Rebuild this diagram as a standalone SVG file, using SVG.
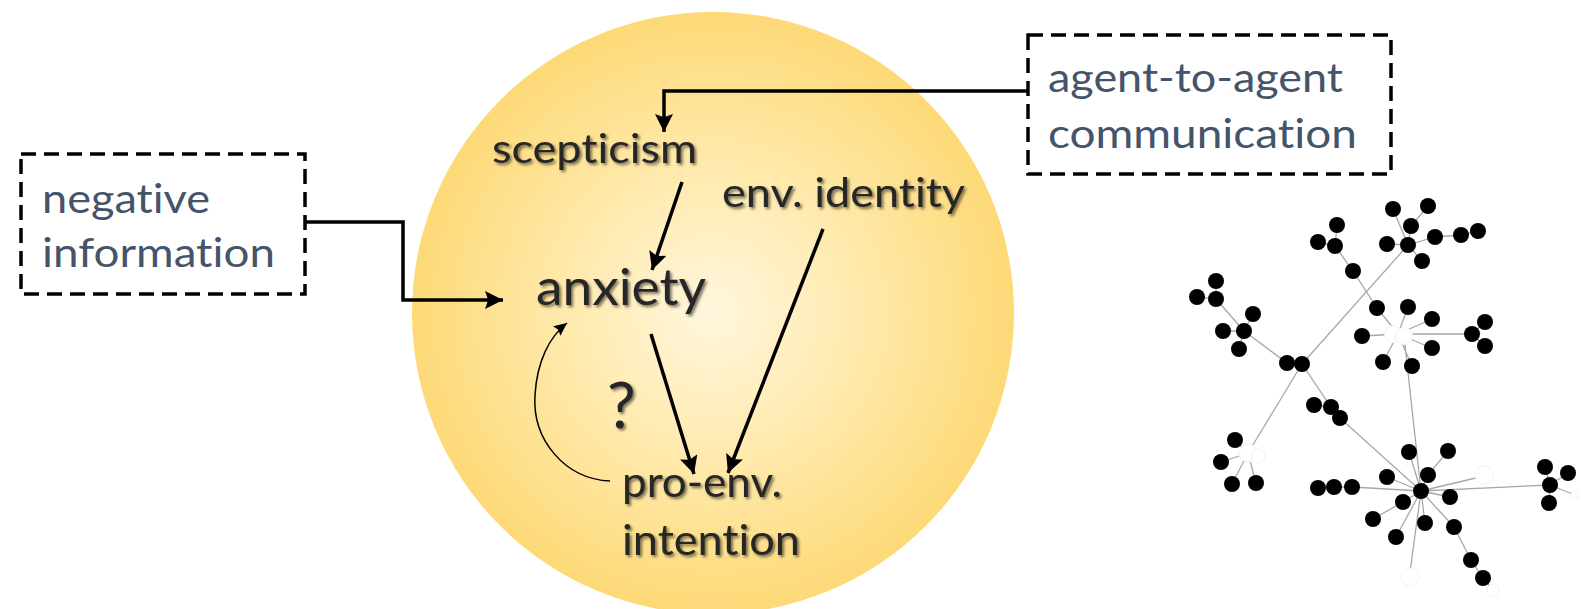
<svg xmlns="http://www.w3.org/2000/svg" width="1581" height="609" viewBox="0 0 1581 609">
<style>
.box{fill:none;stroke:#000;stroke-width:3.5;stroke-dasharray:15 8}
.btxt{font-family:Lato,"Open Sans",sans-serif;font-size:40px;fill:#44546a;font-variant-ligatures:none}
.ctxt{font-family:Lato,"Open Sans",sans-serif;font-size:40px;fill:#262626;filter:url(#sh);font-variant-ligatures:none}
.arr{fill:none;stroke:#000;stroke-width:3.5}
.thin{fill:none;stroke:#000;stroke-width:1.5}
.e{stroke:#a8a8a8;stroke-width:1.3;fill:none}
.n{fill:#000}
.w{fill:#fff;stroke:#f2f2f2;stroke-width:1}
</style>
<defs>
<radialGradient id="g" cx="713" cy="313" r="301" gradientUnits="userSpaceOnUse">
<stop offset="0" stop-color="#fff6de"/>
<stop offset="0.55" stop-color="#ffe8a6"/>
<stop offset="1" stop-color="#fdd977"/>
</radialGradient>
<filter id="sh" x="-10%" y="-20%" width="130%" height="150%">
<feGaussianBlur in="SourceAlpha" stdDeviation="1.6"/>
<feOffset dx="2" dy="2" result="b"/>
<feComponentTransfer in="b" result="b2"><feFuncA type="linear" slope="0.55"/></feComponentTransfer>
<feMerge><feMergeNode in="b2"/><feMergeNode in="SourceGraphic"/></feMerge>
</filter>
<marker id="ah" markerUnits="userSpaceOnUse" markerWidth="18" markerHeight="18" viewBox="0 0 17 17" refX="17" refY="8.5" orient="auto">
<path d="M0,0 L17,8.5 L0,17 L3,8.5 Z" fill="#000"/>
</marker>
<marker id="ahs" markerUnits="userSpaceOnUse" markerWidth="13" markerHeight="12" viewBox="0 0 13 12" refX="13" refY="6" orient="auto">
<path d="M0,0 L13,6 L0,12 L2,6 Z" fill="#000"/>
</marker>
</defs>
<rect width="1581" height="609" fill="#fff"/>

<g id="circle">
<circle cx="713" cy="313" r="301" fill="url(#g)"/>
</g>

<g id="negative-information">
<rect class="box" x="21" y="154" width="284" height="140"/>
<text class="btxt" x="42" y="213" textLength="168" lengthAdjust="spacingAndGlyphs">negative</text>
<text class="btxt" x="42" y="267" textLength="233" lengthAdjust="spacingAndGlyphs">information</text>
</g>

<g id="agent-communication">
<rect class="box" x="1028" y="35" width="363" height="139"/>
<text class="btxt" x="1048" y="92" textLength="295" lengthAdjust="spacingAndGlyphs">agent-to-agent</text>
<text class="btxt" x="1048" y="148" textLength="309" lengthAdjust="spacingAndGlyphs">communication</text>
</g>

<g id="scepticism">
<text class="ctxt" x="492" y="163" textLength="205" lengthAdjust="spacingAndGlyphs">scepticism</text>
</g>
<g id="env-identity">
<text class="ctxt" x="722" y="207" textLength="243" lengthAdjust="spacingAndGlyphs">env. identity</text>
</g>
<g id="anxiety">
<text class="ctxt" x="536" y="305" style="font-size:50px" textLength="170" lengthAdjust="spacingAndGlyphs">anxiety</text>
</g>
<g id="question">
<text class="ctxt" x="607" y="428" style="font-size:64px">?</text>
</g>
<g id="pro-env-intention">
<text class="ctxt" x="622" y="497" style="font-size:42px" textLength="160" lengthAdjust="spacingAndGlyphs">pro-env.</text>
<text class="ctxt" x="622" y="555" style="font-size:42px" textLength="178" lengthAdjust="spacingAndGlyphs">intention</text>
</g>

<g id="connectors">
<path class="arr" d="M305,222 H403 V300 H503" stroke-width="3" marker-end="url(#ah)"/>
<path class="arr" d="M1028,91 H664 V132" stroke-width="2.5" marker-end="url(#ah)"/>
<path class="arr" d="M682,182 L652,270" marker-end="url(#ah)"/>
<path class="arr" d="M651,334 L694,474" marker-end="url(#ah)"/>
<path class="arr" d="M823,229 L728,473" marker-end="url(#ah)"/>
<path class="thin" d="M610,481 C565,479 532,440 535,395 C537,362 549,337 567,323" marker-end="url(#ahs)"/>
</g>

<g id="network">
<g class="e">
<path d="M1408,245 L1393,209 M1408,245 L1411,226 L1428,206 M1408,245 L1387,244 M1408,245 L1435,237 L1461,235 L1478,231 M1408,245 L1422,261 M1408,245 L1302,364"/>
<path d="M1335,246 L1337,225 M1335,246 L1318,242 M1335,246 L1353,271 L1377,308 L1398,334"/>
<path d="M1398,334 L1408,307 M1398,334 L1432,319 M1398,334 L1362,336 M1398,334 L1432,348 M1398,334 L1383,362 M1398,334 L1412,366 M1398,334 L1472,334 L1485,322 M1472,334 L1485,346 M1404,336 L1421,491"/>
<path d="M1216,299 L1216,281 M1216,299 L1197,297 M1216,299 L1244,331 L1253,314 M1244,331 L1223,331 M1244,331 L1239,349 M1244,331 L1287,363 L1302,364"/>
<path d="M1302,364 L1248,453 M1302,364 L1331,407 L1340,418 L1421,491 M1314,405 L1331,407"/>
<path d="M1248,453 L1235,440 M1248,453 L1221,462 M1248,453 L1232,484 M1248,453 L1256,483"/>
<path d="M1421,491 L1409,452 M1421,491 L1428,475 L1448,451 M1421,491 L1387,477 M1421,491 L1352,487 L1334,487 L1318,488 M1421,491 L1450,497 M1421,491 L1403,502 L1373,519 M1421,491 L1425,523 M1421,491 L1454,527 L1471,560 L1483,578 L1492,589 M1421,491 L1396,537 M1421,491 L1410,572 M1421,491 L1550,485 M1421,491 L1480,477"/>
<path d="M1550,485 L1545,467 M1550,485 L1568,473 M1550,485 L1549,503 M1550,485 L1575,495"/>
</g>
<g>
<circle class="w" cx="1393" cy="334" r="8.5"/><circle class="w" cx="1404" cy="336" r="8.5"/>
<circle class="w" cx="1248" cy="453" r="9"/><circle class="w" cx="1258" cy="456" r="7"/>
<circle class="w" cx="1484" cy="475" r="9"/>
<circle class="w" cx="1410" cy="577" r="9"/>
<circle class="w" cx="1493" cy="590" r="6"/>
<circle class="w" cx="1575" cy="495" r="4"/>
</g>
<g class="n">
<circle cx="1408" cy="245" r="8"/><circle cx="1393" cy="209" r="8"/><circle cx="1428" cy="206" r="8"/><circle cx="1411" cy="226" r="8"/><circle cx="1387" cy="244" r="8"/><circle cx="1435" cy="237" r="8"/><circle cx="1461" cy="235" r="8"/><circle cx="1478" cy="231" r="8"/><circle cx="1422" cy="261" r="8"/>
<circle cx="1337" cy="225" r="8"/><circle cx="1318" cy="242" r="8"/><circle cx="1335" cy="246" r="8"/><circle cx="1353" cy="271" r="8"/>
<circle cx="1377" cy="308" r="8"/><circle cx="1408" cy="307" r="8"/><circle cx="1432" cy="319" r="8"/><circle cx="1362" cy="336" r="8"/><circle cx="1432" cy="348" r="8"/><circle cx="1383" cy="362" r="8"/><circle cx="1412" cy="366" r="8"/><circle cx="1472" cy="334" r="8"/><circle cx="1485" cy="322" r="8"/><circle cx="1485" cy="346" r="8"/>
<circle cx="1216" cy="281" r="8"/><circle cx="1197" cy="297" r="8"/><circle cx="1216" cy="299" r="8"/><circle cx="1253" cy="314" r="8"/><circle cx="1223" cy="331" r="8"/><circle cx="1244" cy="331" r="8"/><circle cx="1239" cy="349" r="8"/>
<circle cx="1287" cy="363" r="8"/><circle cx="1302" cy="364" r="8"/>
<circle cx="1314" cy="405" r="8"/><circle cx="1331" cy="407" r="8"/><circle cx="1340" cy="418" r="8"/>
<circle cx="1235" cy="440" r="8"/><circle cx="1221" cy="462" r="8"/><circle cx="1232" cy="484" r="8"/><circle cx="1256" cy="483" r="8"/>
<circle cx="1421" cy="491" r="8"/><circle cx="1409" cy="452" r="8"/><circle cx="1448" cy="451" r="8"/><circle cx="1428" cy="475" r="8"/><circle cx="1387" cy="477" r="8"/><circle cx="1352" cy="487" r="8"/><circle cx="1334" cy="487" r="8"/><circle cx="1318" cy="488" r="8"/><circle cx="1450" cy="497" r="8"/><circle cx="1403" cy="502" r="8"/><circle cx="1373" cy="519" r="8"/><circle cx="1425" cy="523" r="8"/><circle cx="1454" cy="527" r="8"/><circle cx="1396" cy="537" r="8"/><circle cx="1471" cy="560" r="8"/><circle cx="1483" cy="578" r="8"/>
<circle cx="1550" cy="485" r="8"/><circle cx="1545" cy="467" r="8"/><circle cx="1568" cy="473" r="8"/><circle cx="1549" cy="503" r="8"/>
</g>
</g>
</svg>
